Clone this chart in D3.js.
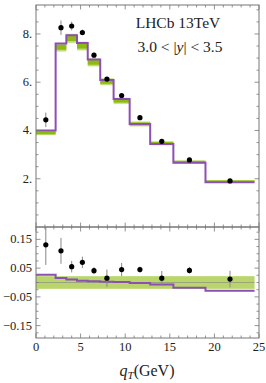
<!DOCTYPE html>
<html><head><meta charset="utf-8">
<script src="https://cdn.jsdelivr.net/npm/d3@7"></script>
<style>body{margin:0;background:#fff}svg{display:block}text{font-family:"Liberation Serif","DejaVu Serif",serif;fill:#222}</style>
</head><body>
<script>
// ---- data ----
const binEdges = [0, 2.2, 3.4, 4.6, 5.8, 7.2, 8.7, 10.5, 12.8, 15.4, 19.0, 24.5];
const dataVals = [4.44, 8.26, 8.33, 8.06, 7.12, 6.13, 5.45, 4.53, 3.55, 2.78, 1.91];
const dataErrs = [0.30, 0.30, 0.18, 0.12, 0.10, 0.08, 0.07, 0.05, 0.04, 0.04, 0.03];
const purpleVals = [4.00, 7.60, 7.95, 7.63, 6.94, 6.09, 5.30, 4.27, 3.44, 2.66, 1.85];
const greenVals = [3.90, 7.45, 7.82, 7.50, 6.82, 6.02, 5.23, 4.27, 3.47, 2.70, 1.90];
const ratioData = [0.131, 0.110, 0.055, 0.070, 0.041, 0.015, 0.045, 0.045, 0.015, 0.042, 0.012];
const ratioErrs = [0.070, 0.045, 0.020, 0.020, 0.012, 0.030, 0.023, 0.010, 0.025, 0.012, 0.029];
const ratioPurple = [0.027, 0.016, 0.010, 0.006, 0.004, 0.003, 0.002, -0.002, -0.007, -0.018, -0.029];
const bandOuter = 0.024, bandInner = 0.014, ratioBand = 0.022;
const xTicks = [0, 5, 10, 15, 20, 25];
const yTopTicks = [2, 4, 6, 8];
const yTopLabels = ["2.", "4.", "6.", "8."];
const yBotTicks = [-0.15, -0.05, 0.05, 0.15];
const yBotLabels = ["\u22120.15", "\u22120.05", "0.05", "0.15"];

const W = 266, H = 383;
const xL = 36, xR = 259, yT = 5, yM = 227, yB = 338;
const svg = d3.select("body").append("svg").attr("width", W).attr("height", H);

const x = d3.scaleLinear().domain([0, 25]).range([xL, xR]);
const yTop = d3.scaleLinear().domain([0, 9.2]).range([yM, yT]);
const yBot = d3.scaleLinear().domain([-0.193, 0.193]).range([yB, yM]);

const bins = binEdges.slice(0, -1).map((e, i) => ({x0: e, x1: binEdges[i + 1], c: (e + binEdges[i + 1]) / 2, i}));

const purpleC = "#8c4fb3", lightG = "#c3dc78", darkG = "#8cba10", bandG = "#b9d56c";

// ---- top panel ----
const gT = svg.append("g");
gT.selectAll("rect.outer").data(bins).join("rect")
  .attr("x", d => x(d.x0)).attr("width", d => x(d.x1) - x(d.x0))
  .attr("y", d => yTop(greenVals[d.i] * (1 + bandOuter)))
  .attr("height", d => yTop(greenVals[d.i] * (1 - bandOuter)) - yTop(greenVals[d.i] * (1 + bandOuter)))
  .attr("fill", lightG);
gT.selectAll("rect.inner").data(bins).join("rect")
  .attr("x", d => x(d.x0)).attr("width", d => x(d.x1) - x(d.x0))
  .attr("y", d => yTop(greenVals[d.i] * (1 + bandInner)))
  .attr("height", d => yTop(greenVals[d.i] * (1 - bandInner)) - yTop(greenVals[d.i] * (1 + bandInner)))
  .attr("fill", darkG);

function stepPts(vals, ys) {
  const pts = [];
  bins.forEach(b => { pts.push([x(b.x0), ys(vals[b.i])]); pts.push([x(b.x1), ys(vals[b.i])]); });
  return pts;
}
gT.append("path").attr("d", d3.line()(stepPts(purpleVals, yTop)))
  .attr("fill", "none").attr("stroke", purpleC).attr("stroke-width", 2);

gT.selectAll("line.err").data(bins).join("line")
  .attr("x1", d => x(d.c)).attr("x2", d => x(d.c))
  .attr("y1", d => yTop(dataVals[d.i] - dataErrs[d.i])).attr("y2", d => yTop(dataVals[d.i] + dataErrs[d.i]))
  .attr("stroke", "#888").attr("stroke-width", 1);
gT.selectAll("circle").data(bins).join("circle")
  .attr("cx", d => x(d.c)).attr("cy", d => yTop(dataVals[d.i])).attr("r", 2.6).attr("fill", "#000");

// ---- bottom panel ----
const gB = svg.append("g");
gB.append("rect").attr("x", x(0)).attr("width", x(24.5) - x(0))
  .attr("y", yBot(ratioBand)).attr("height", yBot(-ratioBand) - yBot(ratioBand)).attr("fill", bandG);
gB.append("line").attr("x1", x(0)).attr("x2", x(24.5)).attr("y1", yBot(0)).attr("y2", yBot(0))
  .attr("stroke", "#9aa57a").attr("stroke-width", 1);
gB.append("path").attr("d", d3.line()(stepPts(ratioPurple, yBot)))
  .attr("fill", "none").attr("stroke", purpleC).attr("stroke-width", 2);
gB.selectAll("line.err").data(bins).join("line")
  .attr("x1", d => x(d.c)).attr("x2", d => x(d.c))
  .attr("y1", d => yBot(Math.max(-0.193, ratioData[d.i] - ratioErrs[d.i])))
  .attr("y2", d => yBot(Math.min(0.193, ratioData[d.i] + ratioErrs[d.i])))
  .attr("stroke", "#888").attr("stroke-width", 1);
gB.selectAll("circle").data(bins).join("circle")
  .attr("cx", d => x(d.c)).attr("cy", d => yBot(ratioData[d.i])).attr("r", 2.6).attr("fill", "#000");

// ---- frames and ticks ----
const axC = "#777";
function frame(y0, y1) {
  svg.append("rect").attr("x", xL).attr("y", y0).attr("width", xR - xL).attr("height", y1 - y0)
    .attr("fill", "none").attr("stroke", axC).attr("stroke-width", 1);
}
frame(yT, yM); frame(yM, yB);

const tg = svg.append("g").attr("stroke", axC).attr("stroke-width", 0.8);
function hTicks(yy, dir) {
  d3.range(0, 25.001, 1).forEach(v => {
    const major = Math.abs(v % 5) < 1e-6;
    const len = major ? 4.5 : 2.5;
    tg.append("line").attr("x1", x(v)).attr("x2", x(v)).attr("y1", yy).attr("y2", yy + dir * len);
  });
}
hTicks(yT, 1); hTicks(yM, -1); hTicks(yM, 1); hTicks(yB, -1);
function vTicks(scale, vals, majors) {
  vals.forEach(v => {
    const major = majors.some(m => Math.abs(m - v) < 1e-6);
    const len = major ? 4.5 : 2.5;
    const yy = scale(v);
    tg.append("line").attr("x1", xL).attr("x2", xL + len).attr("y1", yy).attr("y2", yy);
    tg.append("line").attr("x1", xR).attr("x2", xR - len).attr("y1", yy).attr("y2", yy);
  });
}
vTicks(yTop, d3.range(0.5, 9.2, 0.5), yTopTicks);
vTicks(yBot, d3.range(-0.175, 0.19, 0.025), yBotTicks);

// tick labels
svg.selectAll("text.yt").data(yTopTicks).join("text")
  .attr("x", 32).attr("y", d => yTop(d) + 4).attr("text-anchor", "end").attr("font-size", 12.5)
  .text((d, i) => yTopLabels[i]);
svg.selectAll("text.yb").data(yBotTicks).join("text")
  .attr("x", 32).attr("y", d => yBot(d) + 4).attr("text-anchor", "end").attr("font-size", 12.5)
  .text((d, i) => yBotLabels[i]);
svg.selectAll("text.xt").data(xTicks).join("text")
  .attr("x", d => x(d)).attr("y", 351).attr("text-anchor", "middle").attr("font-size", 12.5)
  .text(d => d);

// axis title
const xt = svg.append("text").attr("x", 147).attr("y", 376).attr("text-anchor", "middle").attr("font-size", 16);
xt.append("tspan").attr("font-style", "italic").text("q");
xt.append("tspan").attr("font-style", "italic").attr("font-size", 11).attr("dy", 3).text("T");
xt.append("tspan").attr("dy", -3).text("(GeV)");

// annotation
svg.append("text").attr("x", 178).attr("y", 28).attr("text-anchor", "middle").attr("font-size", 15.5).text("LHCb 13TeV");
const t2 = svg.append("text").attr("x", 180).attr("y", 52).attr("text-anchor", "middle").attr("font-size", 15.5);
t2.append("tspan").text("3.0 < |");
t2.append("tspan").attr("font-style", "italic").text("y");
t2.append("tspan").text("| < 3.5");
</script>
</body></html>
